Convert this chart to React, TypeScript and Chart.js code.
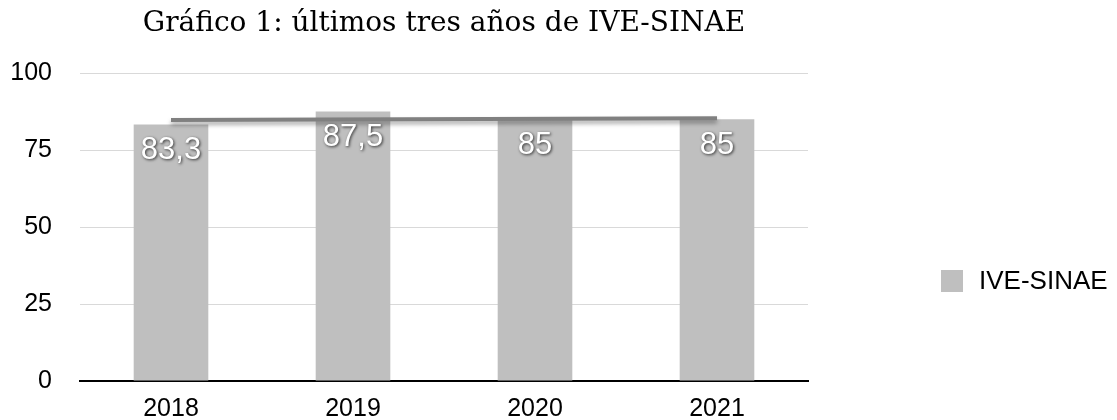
import React, { useEffect, useRef } from "react";
import { Chart, registerables } from "chart.js";

Chart.register(...registerables);

const categories = ["2018", "2019", "2020", "2021"];
const seriesValues = [83.3, 87.5, 85, 85];
const trendValues: (number | null)[] = [84.7, null, null, 85.3];
const yTicks = [0, 25, 50, 75, 100];
const seriesName = "IVE-SINAE";
const titleText = "Gráfico 1: últimos tres años de IVE-SINAE";

const barColor = "#bfbfbf";
const trendColor = "#808080";
const sansFont = "'Liberation Sans', Arial, Helvetica, sans-serif";
const serifFont = "'DejaVu Serif', serif";

const shadowPlugin = {
  id: "trendShadow",
  beforeDatasetDraw(chart: any, args: any) {
    if (args.index === 0) {
      const ctx = chart.ctx;
      ctx.save();
      ctx.shadowColor = "rgba(0,0,0,0.35)";
      ctx.shadowBlur = 4;
      ctx.shadowOffsetY = 3;
    }
  },
  afterDatasetDraw(chart: any, args: any) {
    if (args.index === 0) chart.ctx.restore();
  },
};

const labelPlugin = {
  id: "barLabels",
  afterDatasetsDraw(chart: any) {
    const ctx = chart.ctx;
    const meta = chart.getDatasetMeta(1);
    ctx.save();
    ctx.font = `31px ${sansFont}`;
    ctx.textAlign = "center";
    ctx.textBaseline = "middle";
    ctx.fillStyle = "#ffffff";
    ctx.shadowColor = "rgba(0,0,0,0.75)";
    ctx.shadowBlur = 3;
    ctx.shadowOffsetX = 1;
    ctx.shadowOffsetY = 1;
    meta.data.forEach((bar: any, i: number) => {
      const txt = String(seriesValues[i]).replace(".", ",");
      ctx.fillText(txt, bar.x, bar.y + 26);
    });
    ctx.restore();
  },
};

const legendPlugin = {
  id: "sideLegend",
  afterDraw(chart: any) {
    const ctx = chart.ctx;
    const x = chart.width - 176;
    const cy = chart.chartArea.bottom - 100;
    ctx.save();
    ctx.fillStyle = barColor;
    ctx.fillRect(x, cy - 11, 22, 22);
    ctx.fillStyle = "#000";
    ctx.font = `26px ${sansFont}`;
    ctx.textBaseline = "middle";
    ctx.textAlign = "left";
    ctx.fillText(seriesName, x + 38, cy + 1);
    ctx.restore();
  },
};

export default function App() {
  const ref = useRef<HTMLCanvasElement>(null);
  useEffect(() => {
    document.body.style.margin = "0";
    const canvas = ref.current!;
    const chart = new Chart(canvas, {
      type: "bar",
      data: {
        labels: categories,
        datasets: [
          {
            type: "line",
            label: "Tendencia",
            data: trendValues,
            borderColor: trendColor,
            borderWidth: 4,
            pointRadius: 0,
            spanGaps: true,
            tension: 0,
            order: 0,
          } as any,
          {
            type: "bar",
            label: seriesName,
            data: seriesValues,
            backgroundColor: barColor,
            barPercentage: 0.41,
            categoryPercentage: 1,
            order: 1,
          } as any,
        ],
      },
      options: {
        responsive: false,
        animation: false,
        devicePixelRatio: 1,
        layout: { padding: { left: 12, right: 309, top: 0, bottom: 0 } },
        plugins: {
          legend: { display: false },
          tooltip: { enabled: false },
          title: {
            display: true,
            text: titleText,
            fullSize: false,
            color: "#000",
            font: { family: serifFont, size: 28, weight: "normal" },
            padding: { top: 7, bottom: 32.4 },
          },
        },
        scales: {
          x: {
            grid: { display: false, drawTicks: false },
            border: { color: "#000", width: 2 },
            ticks: {
              color: "#000",
              font: { family: sansFont, size: 25, lineHeight: 1.1 },
              padding: 14.5,
              maxRotation: 0,
            },
            afterFit: (scale: any) => {
              scale.height = 39;
            },
          },
          y: {
            min: 0,
            max: 100,
            afterBuildTicks: (scale: any) => {
              scale.ticks = yTicks.map((v) => ({ value: v }));
            },
            grid: { color: "#d9d9d9", lineWidth: 1, drawTicks: false },
            border: { display: false },
            ticks: { color: "#000", font: { family: sansFont, size: 25 }, padding: 28 },
            afterFit: (scale: any) => {
              scale.width = 68;
              scale.paddingTop = 0;
              scale.paddingBottom = 0;
            },
          },
        },
      },
      plugins: [shadowPlugin, labelPlugin, legendPlugin],
    });
    return () => chart.destroy();
  }, []);
  return (
    <div style={{ width: 1117, height: 420 }}>
      <canvas ref={ref} width={1117} height={420} style={{ display: "block" }} />
    </div>
  );
}
